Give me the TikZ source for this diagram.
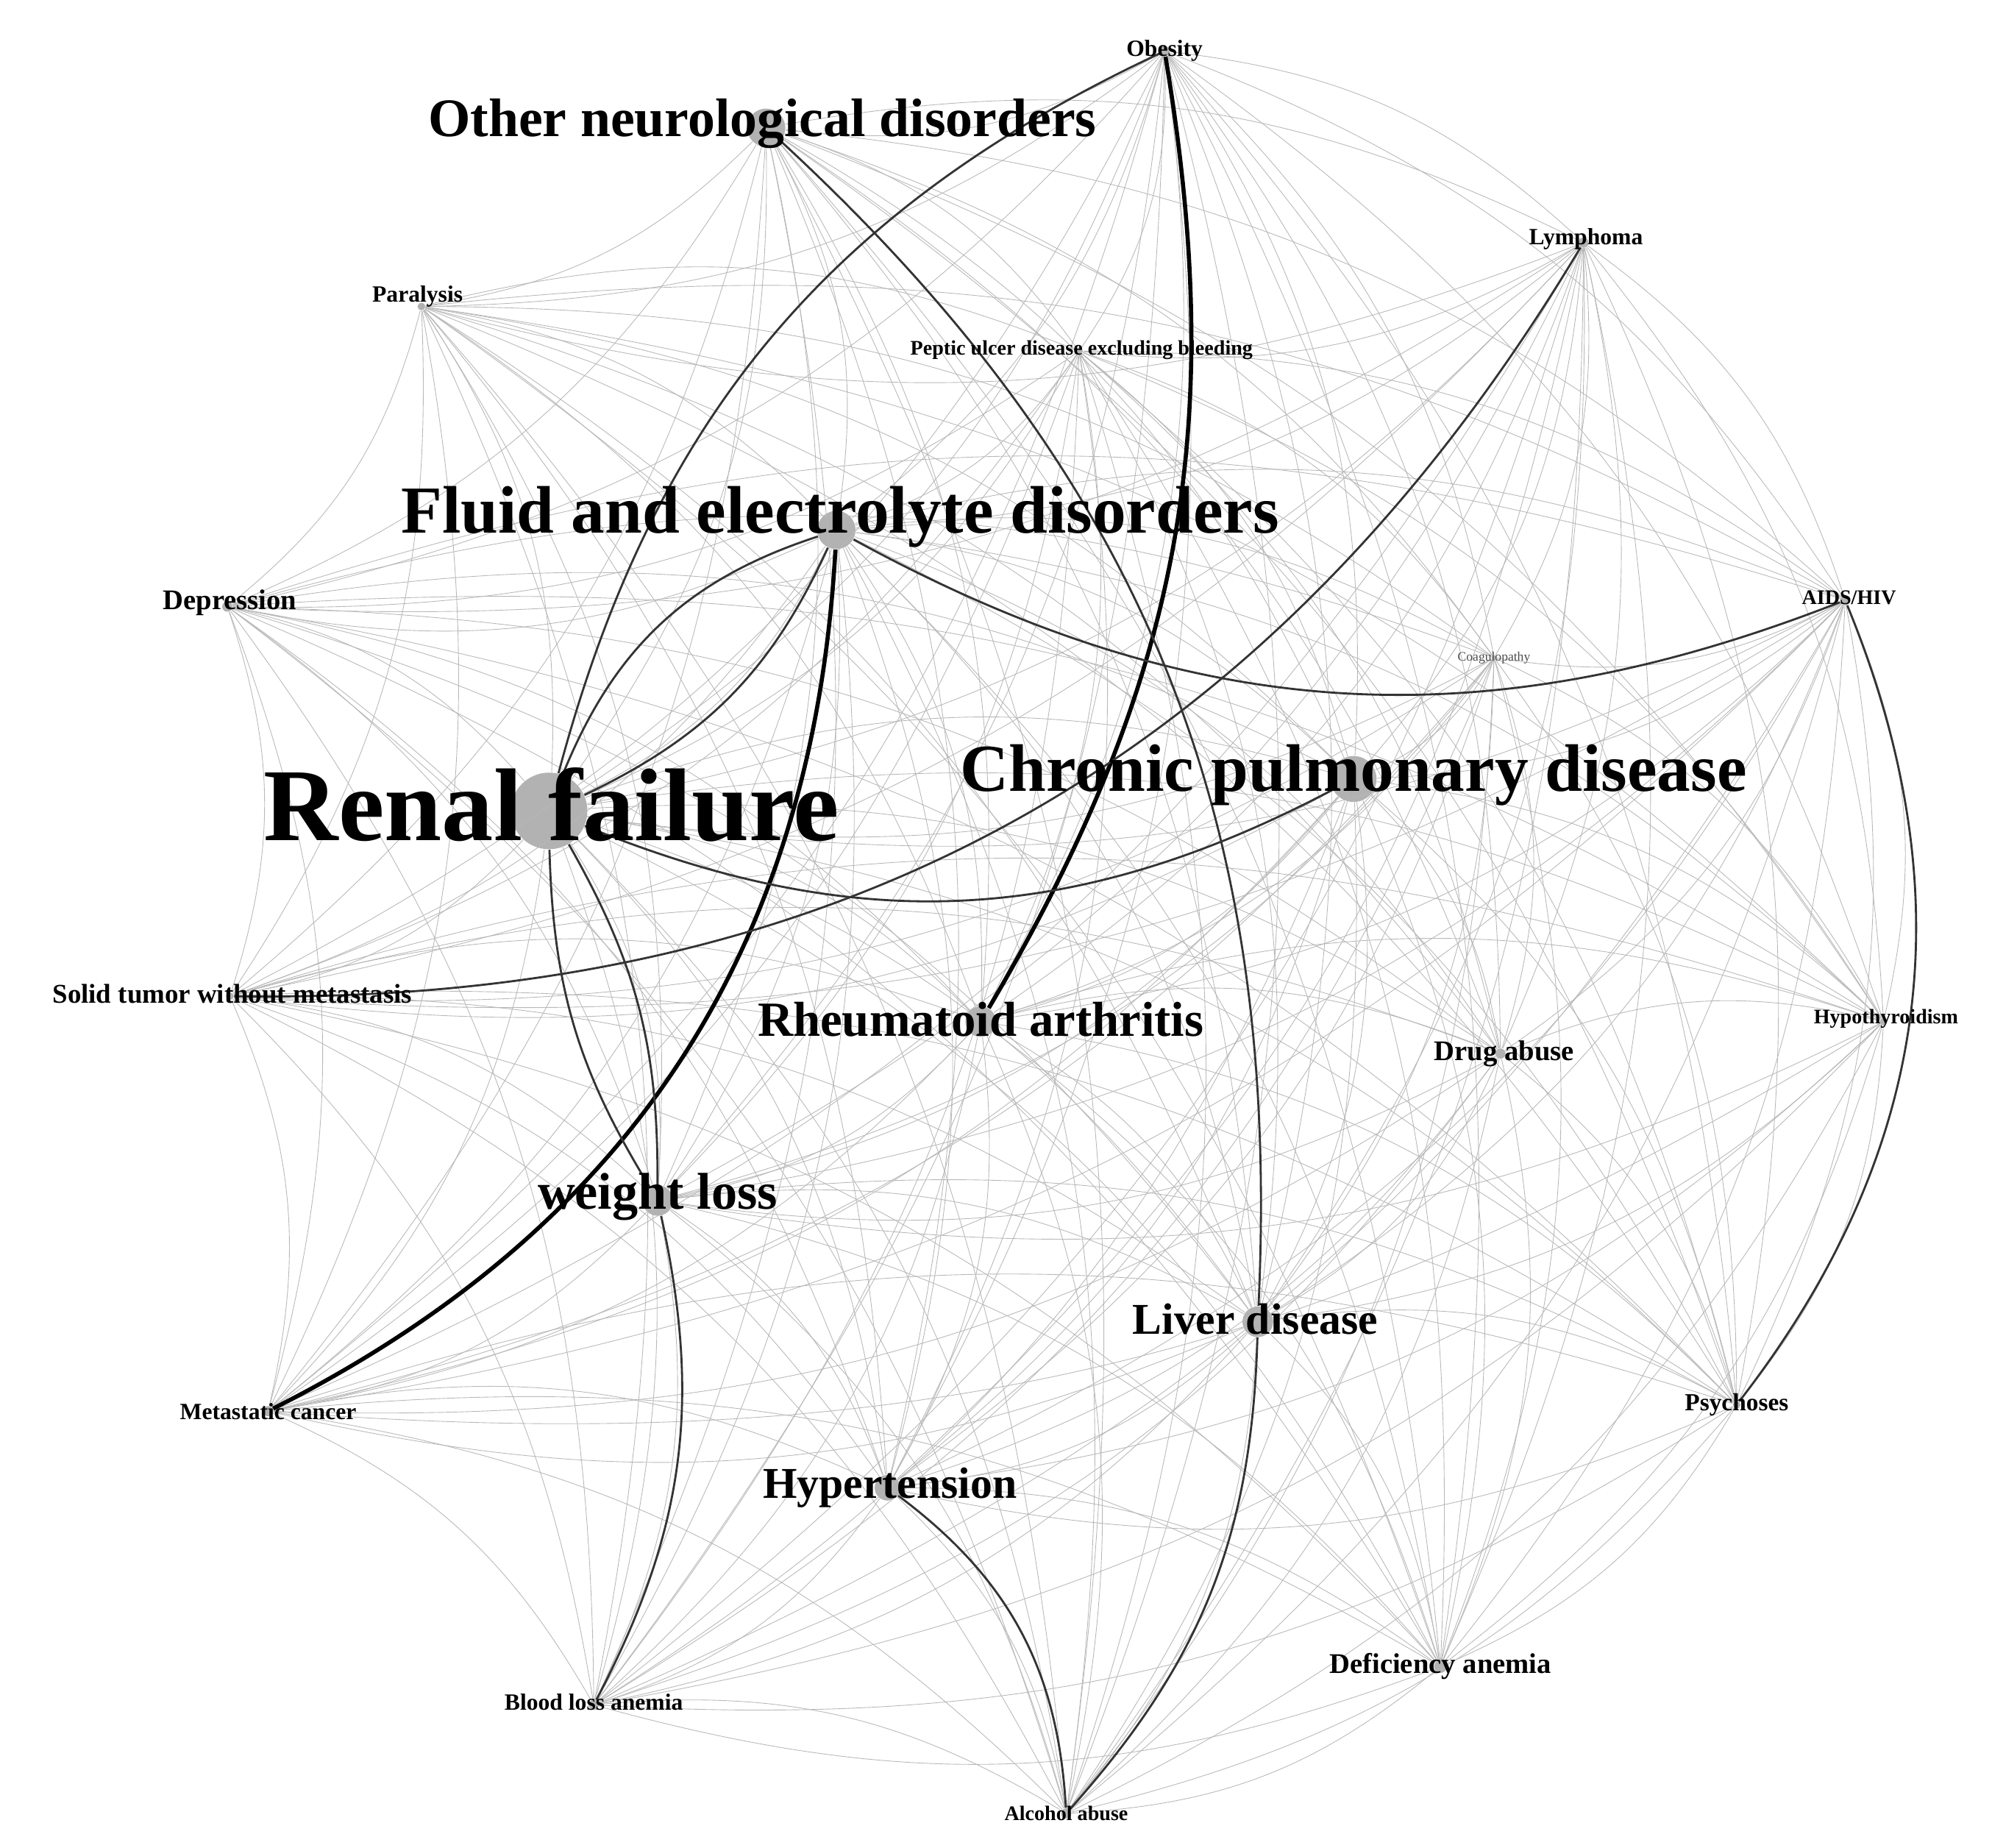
\documentclass[tikz,border=0pt]{standalone}
\usepackage{fontspec}
\setmainfont{Liberation Serif}
\usetikzlibrary{positioning}
\tikzset{dot/.style={circle,fill=black!30,inner sep=0pt},
  edge/.style={draw=black!28,line width=0.25pt},
  strong/.style={draw=black!80,line width=0.8pt},
  heavy/.style={draw=black,line width=1.6pt},
  lbl/.style={font=\bfseries,inner sep=0pt}}
\begin{document}
\begin{tikzpicture}[x=0.01736cm,y=-0.01736cm]
  \useasboundingbox (0,0) rectangle (1560,1447);
  % dots: x/y/diameter
  \foreach \x/\y/\r [count=\k] in {912/40/8, 600/100/30, 1240/190/8, 330/240/6,
      845/275/6, 655/415/30, 178/475/8, 1445/470/8, 1170/515/4, 430/635/60,
      1060/610/36, 180/780/6, 768/800/24, 1175/825/8, 1475/800/6, 515/940/24,
      985/1035/24, 210/1105/8, 1360/1100/6, 695/1165/20, 1128/1305/10,
      465/1335/8, 835/1420/8}
    \node[dot,minimum size=\r*0.1736mm] (d\k) at (\x,\y) {};
  % all links
  \foreach \i in {1,...,22}{
    \pgfmathtruncatemacro{\ii}{\i+1}
    \foreach \j in {\ii,...,23}
      \draw[edge] (d\i) to[bend left=18] (d\j);
  }
  % darker links
  \draw[heavy] (d18) to[bend right=30] (d6);
  \draw[heavy] (d1) to[bend left=20] (d13);
  \draw[strong] (d10) to[bend left=25] (d6);
  \draw[strong] (d10) to[bend right=20] (d6);
  \draw[strong] (d6) to[bend right=25] (d8);
  \draw[strong] (d3) to[bend left=30] (d12);
  \draw[strong] (d10) to[bend right=15] (d16);
  \draw[strong] (d10) to[bend left=15] (d16);
  \draw[strong] (d10) to[bend left=25] (d1);
  \draw[strong] (d2) to[bend left=25] (d17);
  \draw[strong] (d10) to[bend right=25] (d11);
  \draw[strong] (d8) to[bend left=30] (d19);
  \draw[strong] (d16) to[bend left=20] (d22);
  \draw[strong] (d20) to[bend left=25] (d23);
  \draw[strong] (d17) to[bend left=20] (d23);
  % labels
  \node[lbl,font=\bfseries\fontsize{9}{9}\selectfont] (l1) at (d1) {Obesity};
  \node[lbl,font=\bfseries\fontsize{21}{21}\selectfont] (l2) at (597,97) {Other neurological disorders};
  \node[lbl,font=\bfseries\fontsize{9}{9}\selectfont] (l3) at (1242,187) {Lymphoma};
  \node[lbl,font=\bfseries\fontsize{9}{9}\selectfont] (l4) at (327,232) {Paralysis};
  \node[lbl,font=\bfseries\fontsize{8}{8}\selectfont] (l5) at (847,274) {Peptic ulcer disease excluding bleeding};
  \node[lbl,font=\bfseries\fontsize{26}{26}\selectfont] (l6) at (658,405) {Fluid and electrolyte disorders};
  \node[lbl,font=\bfseries\fontsize{11}{11}\selectfont] (l7) at (180,472) {Depression};
  \node[lbl,font=\bfseries\fontsize{8}{8}\selectfont] (l8) at (1448,468) {AIDS/HIV};
  \node[lbl,font=\fontsize{5}{5}\selectfont,text=black!70] (l9) at (d9) {Coagulopathy};
  \node[lbl,font=\bfseries\fontsize{40}{40}\selectfont] (l10) at (432,630) {Renal failure};
  \node[lbl,font=\bfseries\fontsize{26}{26}\selectfont] (l11) at (1060,607) {Chronic pulmonary disease};
  \node[lbl,font=\bfseries\fontsize{10.5}{10.5}\selectfont] (l12) at (182,778) {Solid tumor without metastasis};
  \node[lbl,font=\bfseries\fontsize{19}{19}\selectfont] (l13) at (768,798) {Rheumatoid arthritis};
  \node[lbl,font=\bfseries\fontsize{11}{11}\selectfont] (l14) at (1178,825) {Drug abuse};
  \node[lbl,font=\bfseries\fontsize{8}{8}\selectfont] (l15) at (1477,798) {Hypothyroidism};
  \node[lbl,font=\bfseries\fontsize{20}{20}\selectfont] (l16) at (515,937) {weight loss};
  \node[lbl,font=\bfseries\fontsize{17}{17}\selectfont] (l17) at (983,1033) {Liver disease};
  \node[lbl,font=\bfseries\fontsize{9}{9}\selectfont] (l18) at (d18) {Metastatic cancer};
  \node[lbl,font=\bfseries\fontsize{9.5}{9.5}\selectfont] (l19) at (d19) {Psychoses};
  \node[lbl,font=\bfseries\fontsize{17}{17}\selectfont] (l20) at (697,1165) {Hypertension};
  \node[lbl,font=\bfseries\fontsize{11}{11}\selectfont] (l21) at (d21) {Deficiency anemia};
  \node[lbl,font=\bfseries\fontsize{9}{9}\selectfont] (l22) at (465,1333) {Blood loss anemia};
  \node[lbl,font=\bfseries\fontsize{8}{8}\selectfont] (l23) at (d23) {Alcohol abuse};
\end{tikzpicture}
\end{document}
